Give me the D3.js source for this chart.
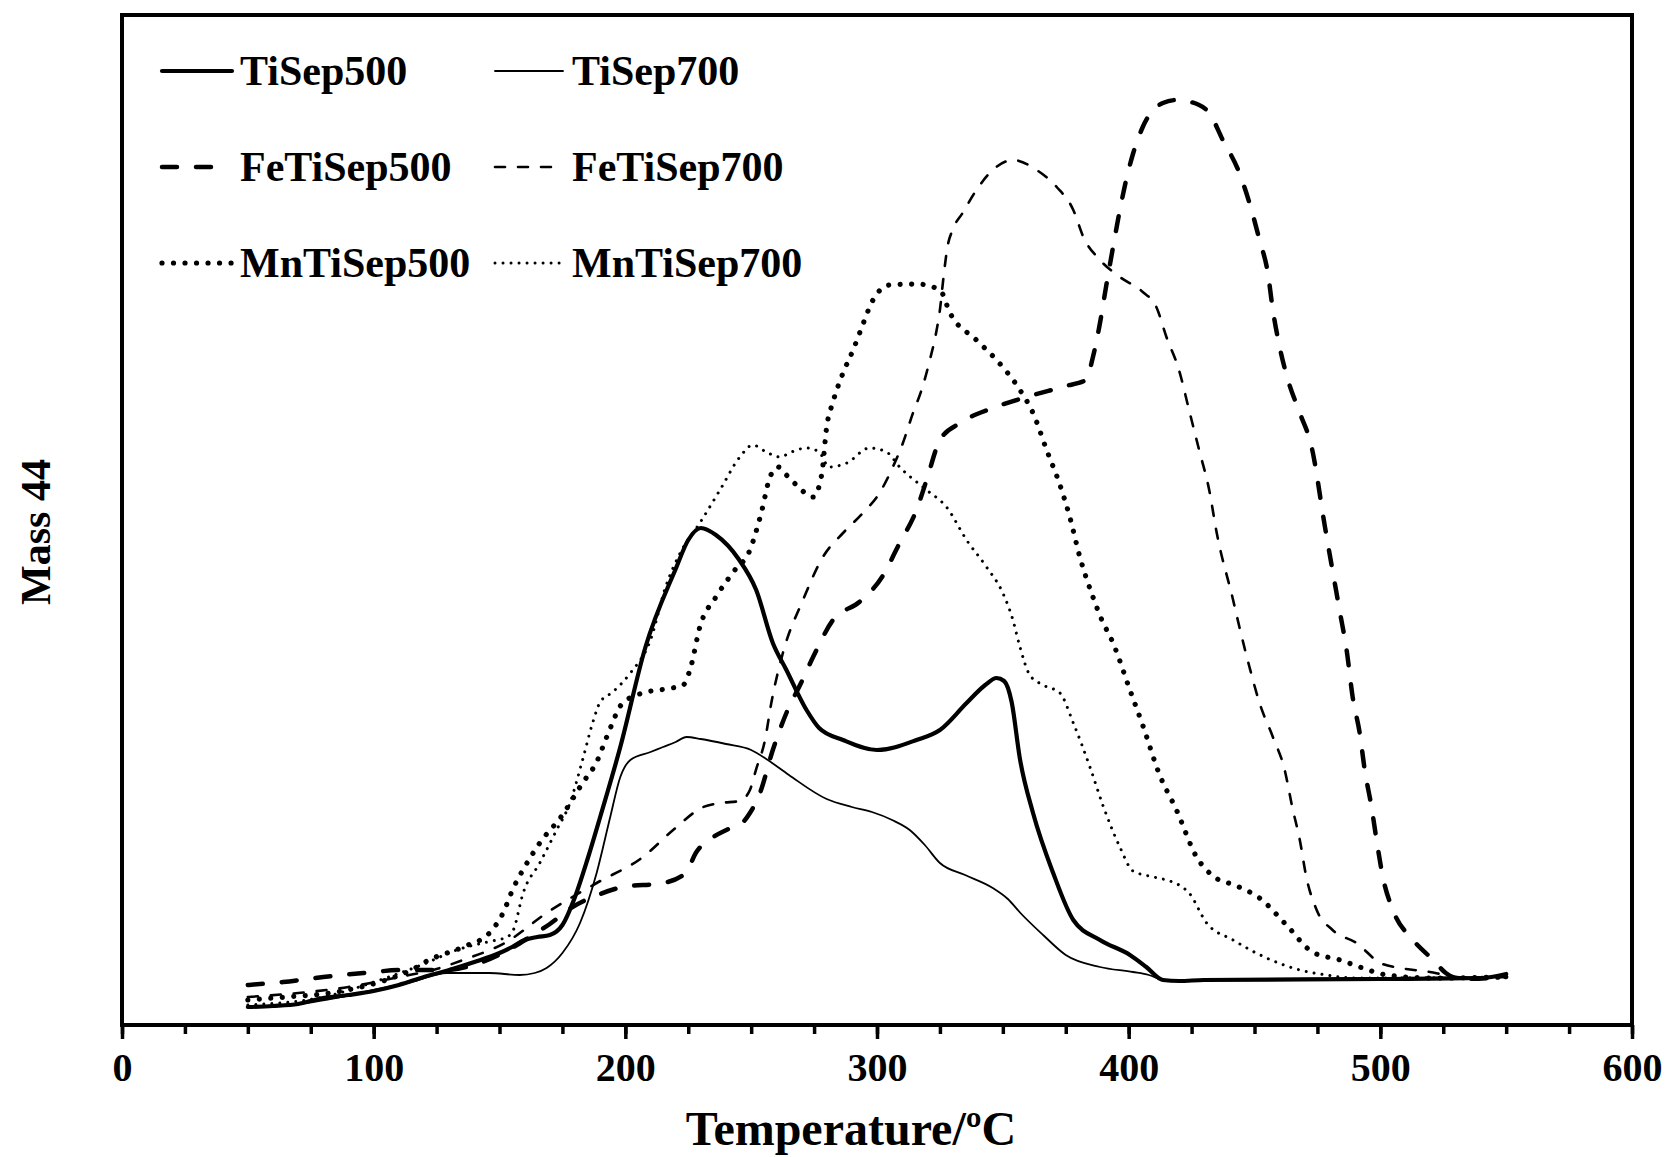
<!DOCTYPE html>
<html>
<head>
<meta charset="utf-8">
<script src="https://cdn.jsdelivr.net/npm/d3@7"></script>
<style>
  body { margin: 0; background: #fff; }
  svg text { font-family: "Liberation Serif", "Times New Roman", serif; font-weight: bold; fill: #000; }
</style>
</head>
<body>
<script>
// temperature (oC), mass 44 signal (a.u.)
var tiSep500 = [
  [50, 20], [60, 21], [70, 23], [78, 28], [90, 32], [100, 36], [110, 42], [120, 50],
  [130, 57], [140, 65], [150, 74], [155, 80], [160, 87], [165, 90], [170, 92], [175, 102],
  [180, 130], [185, 168], [190, 210], [198, 280], [208, 380], [220, 458], [225, 487],
  [230, 499], [236, 492], [245, 468], [252, 437], [258.6, 384], [264, 357], [272, 317],
  [277, 299], [286.5, 287], [300, 277], [315.7, 287], [325, 297], [335.6, 324], [343, 342],
  [347.5, 349], [350.5, 346], [353.5, 325], [356.8, 268], [362, 214], [370, 154], [378, 107],
  [388.6, 87], [400.5, 72], [407, 60], [413.6, 47], [420, 46], [430, 47], [500, 48],
  [540, 49], [550, 53]
];
var tiSep700 = [
  [50, 20], [76, 25], [100, 37], [115, 45], [129, 54], [146, 54], [158, 52], [164, 54],
  [168.7, 59], [175, 74], [182, 104], [188.6, 154], [194, 210], [198, 250], [202, 267],
  [210, 275], [215, 280], [220, 285], [224.3, 290], [230, 288], [240, 283], [250, 277],
  [256, 268], [265, 252], [280, 228], [290, 220], [298, 215], [306, 207], [313, 197],
  [319, 182], [325, 164], [335, 152], [346, 139], [352, 128], [357, 114], [366, 92],
  [375, 72], [388.6, 60], [401.7, 55], [408, 52], [414, 47], [420, 47], [550, 50]
];
var feTiSep500 = [
  [50, 42], [64, 45], [80, 50], [96, 54], [112, 57], [129, 57], [142, 64], [152, 75],
  [162, 90], [170, 103], [179, 120], [189, 132], [199, 140], [215, 144], [224, 154],
  [228, 174], [235, 190], [241, 198], [246.8, 205], [249.5, 214], [253.5, 234], [258.6, 277],
  [264, 314], [270, 345], [274.6, 370], [282.5, 407], [293, 425], [302, 450], [309, 484],
  [315.7, 517], [319.7, 547], [325, 587], [333, 604], [346, 619], [359.4, 630], [375, 641],
  [383, 647], [385.8, 670], [388.6, 704], [391, 740], [393.8, 780], [396.5, 817], [399, 847],
  [401.7, 873], [405.6, 900], [413.6, 924], [419, 927], [428, 922], [432, 914], [437.4, 887],
  [443.5, 857], [448, 824], [452, 787], [455.3, 754], [457.3, 717], [460, 680], [463.3, 647],
  [468, 614], [472.7, 580], [478, 500], [484, 414], [486.6, 377], [489, 330], [491.8, 294],
  [493.8, 257], [496.5, 220], [498.5, 187], [501, 150], [505, 117], [513, 87], [521, 67],
  [526, 54], [532, 48], [550, 50]
];
var feTiSep700 = [
  [50, 30], [70, 34], [90, 40], [110, 50], [125, 58], [135.5, 67], [152.8, 85], [168.7, 114],
  [188.6, 144], [207, 170], [219, 197], [231, 220], [238, 224], [245.5, 226], [249.5, 237],
  [252, 258], [255.5, 287], [258, 324], [262.6, 374], [270.6, 427], [278.5, 470], [286.5, 494],
  [294.4, 514], [301, 534], [306.3, 560], [310.3, 584], [314.3, 614], [317.7, 637], [321, 667],
  [323.7, 697], [325, 717], [326.3, 747], [328, 780], [330, 797], [334, 814], [339.5, 837],
  [346, 857], [354, 867], [363.4, 857], [371.4, 840], [378, 817], [382, 790], [388.6, 767],
  [396.5, 750], [405.6, 735], [411, 720], [415, 690], [420, 657], [424, 617], [428, 577],
  [432, 537], [435, 494], [441.5, 427], [444, 400], [448, 360], [452, 324], [457.3, 290],
  [462, 257], [465, 220], [468, 187], [470.6, 150], [474.7, 117], [481, 97], [490.5, 84],
  [500, 64], [508, 59], [519.7, 55], [526, 52], [535, 49], [550, 50]
];
var mnTiSep500 = [
  [50, 27], [65, 30], [82.6, 34], [95, 40], [105, 47], [115, 57], [122, 67], [135.5, 80],
  [146, 94], [151.4, 114], [155.5, 139], [160, 160], [166, 184], [175, 212], [183, 244],
  [188.6, 265], [192.6, 290], [199, 324], [208.5, 335], [216, 338], [223, 342], [226, 360],
  [229.6, 400], [236, 430], [242.9, 455], [249.5, 477], [254, 514], [257.5, 550], [260.7, 560],
  [264, 552], [268, 542], [274.6, 530], [278, 552], [280, 600], [282.5, 625], [286.5, 654],
  [290.5, 677], [294, 700], [298, 725], [305, 742], [315.7, 743], [325, 737], [329, 714],
  [339.5, 687], [347.5, 667], [356.8, 637], [362, 614], [367.4, 577], [372.7, 542], [376.6, 510],
  [380.6, 470], [385.8, 430], [389, 409], [393.8, 384], [400.5, 337], [405.7, 301], [412, 254],
  [419, 217], [427, 170], [433.5, 151], [443, 141], [452, 129], [462.7, 102], [473, 75],
  [484, 67], [493, 59], [502.5, 52], [520, 49], [550, 50]
];
var mnTiSep700 = [
  [50, 22], [80, 30], [102.5, 47], [120, 63], [133, 77], [145, 85], [153, 90], [155.5, 97],
  [159.4, 134], [166, 164], [172.7, 197], [178, 224], [183, 267], [187, 304], [190, 325],
  [195, 335], [202, 354], [210, 387], [216, 440], [222, 475], [229.6, 504], [237.6, 537],
  [245.5, 570], [250.7, 582], [256, 575], [261.4, 570], [266, 575], [272, 579], [277, 575],
  [281, 560], [288, 564], [297, 579], [303.8, 575], [309, 560], [319.7, 537], [327.6, 520],
  [335.6, 487], [343.5, 460], [350, 434], [354, 407], [356.8, 380], [360.7, 352], [366, 342],
  [372.7, 334], [378, 304], [384.6, 260], [390, 220], [396.5, 180], [401.7, 156], [410, 150],
  [415, 147], [420, 142], [424, 134], [431, 104], [441.5, 87], [454.8, 69], [468, 57],
  [478.6, 52], [490, 49], [550, 50]
];

var seriesNames = ["TiSep500", "TiSep700", "FeTiSep500", "FeTiSep700", "MnTiSep500", "MnTiSep700"];
var xTicks = [0, 100, 200, 300, 400, 500, 600];

var width = 1668, height = 1157;
var plotLeft = 122, plotRight = 1632, plotTop = 15, plotBottom = 1025;

var lineStyles = [
  { data: tiSep500, width: 4.2, dash: null, legendEnd: 232 },
  { data: tiSep700, width: 1.8, dash: null, legendEnd: 563 },
  { data: feTiSep500, width: 4.5, dash: "15,19", legendEnd: 215 },
  { data: feTiSep700, width: 2.6, dash: "10,13", legendEnd: 563 },
  { data: mnTiSep500, width: 5.2, dash: "0.01,11.5", legendEnd: 232 },
  { data: mnTiSep700, width: 3, dash: "0.01,8", legendEnd: 563 }
];

var svg = d3.select("body").append("svg")
    .attr("width", width)
    .attr("height", height);

var x = d3.scaleLinear().domain([0, 600]).range([plotLeft, plotRight]);
var y = d3.scaleLinear().domain([0, 1012]).range([1027, 15]);

// minor ticks
svg.append("g")
    .attr("transform", "translate(0," + plotBottom + ")")
    .call(d3.axisBottom(x).tickValues(d3.range(0, 601, 25)).tickSize(9).tickFormat(""))
    .call(function(g) { g.select(".domain").remove(); })
    .selectAll("line").attr("stroke", "#000").attr("stroke-width", 3.5);

// major ticks
var xAxis = svg.append("g")
    .attr("transform", "translate(0," + plotBottom + ")")
    .call(d3.axisBottom(x).tickValues(xTicks).tickSize(14).tickFormat(d3.format("d")));
xAxis.select(".domain").remove();
xAxis.selectAll("line").attr("stroke", "#000").attr("stroke-width", 3.5);
xAxis.selectAll("text")
    .attr("y", 56)
    .attr("dy", 0)
    .style("font-size", "40px")
    .style("font-family", "'Liberation Serif', 'Times New Roman', serif")
    .style("font-weight", "bold");

// frame
svg.append("rect")
    .attr("x", plotLeft)
    .attr("y", plotTop)
    .attr("width", plotRight - plotLeft)
    .attr("height", plotBottom - plotTop)
    .attr("fill", "none")
    .attr("stroke", "#000")
    .attr("stroke-width", 4);

var line = d3.line()
    .x(function(d) { return x(d[0]); })
    .y(function(d) { return y(d[1]); })
    .curve(d3.curveMonotoneX);

lineStyles.forEach(function(s) {
  svg.append("path")
      .datum(s.data)
      .attr("d", line)
      .attr("fill", "none")
      .attr("stroke", "#000")
      .attr("stroke-width", s.width)
      .attr("stroke-linecap", "round")
      .attr("stroke-linejoin", "round")
      .attr("stroke-dasharray", s.dash);
});

// legend
var legendCols = [{ x1: 162, tx: 240 }, { x1: 495, tx: 572 }];
var legendRows = [71, 167, 263];
seriesNames.forEach(function(name, i) {
  var col = legendCols[i % 2], ly = legendRows[Math.floor(i / 2)], s = lineStyles[i];
  svg.append("line")
      .attr("x1", col.x1).attr("x2", s.legendEnd)
      .attr("y1", ly).attr("y2", ly)
      .attr("stroke", "#000")
      .attr("stroke-width", s.width)
      .attr("stroke-linecap", "round")
      .attr("stroke-dasharray", s.dash);
  svg.append("text")
      .attr("x", col.tx)
      .attr("y", ly + 14)
      .style("font-size", "42px")
      .text(name);
});

// axis titles
svg.append("text")
    .attr("x", 851)
    .attr("y", 1145)
    .attr("text-anchor", "middle")
    .style("font-size", "48px")
    .text("Temperature/ºC");

svg.append("text")
    .attr("transform", "translate(50,532) rotate(-90)")
    .attr("text-anchor", "middle")
    .style("font-size", "42px")
    .text("Mass 44");
</script>
</body>
</html>
